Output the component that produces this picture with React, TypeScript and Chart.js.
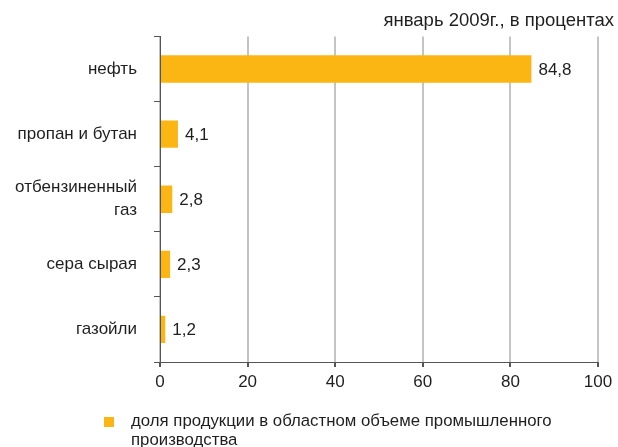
import React, { useEffect, useRef } from "react";
import { Chart, registerables } from "chart.js";

Chart.register(...registerables);

const categories: (string | string[])[] = [
  "нефть",
  "пропан и бутан",
  ["отбензиненный", "газ"],
  "сера сырая",
  "газойли",
];
const values: number[] = [84.8, 4.1, 2.8, 2.3, 1.2];
const seriesName = "доля продукции в областном объеме промышленного производства";
const legendLines: string[] = ["доля продукции в областном объеме промышленного", "производства"];
const titleText = "январь 2009г., в процентах";
const xMin = 0;
const xMax = 100;
const xStep = 20;

const BAR_COLOR = "#FCB614";
const TEXT_COLOR = "#1f1f1f";
const FONT = "'Liberation Sans', Arial, sans-serif";
const W = 610;
const H = 439;

const fmt = (v: number) => v.toFixed(1).replace(".", ",");

const valueLabels = {
  id: "valueLabels",
  afterDatasetsDraw(chart: any) {
    const ctx = chart.ctx;
    const meta = chart.getDatasetMeta(0);
    ctx.save();
    ctx.font = `17px ${FONT}`;
    ctx.fillStyle = TEXT_COLOR;
    ctx.textAlign = "left";
    ctx.textBaseline = "middle";
    meta.data.forEach((bar: any, i: number) => {
      ctx.fillText(fmt(values[i]), bar.x + 7, bar.y + 1);
    });
    ctx.restore();
  },
};

const customLegend = {
  id: "customLegend",
  afterDraw(chart: any) {
    const ctx = chart.ctx;
    ctx.save();
    ctx.fillStyle = BAR_COLOR;
    ctx.fillRect(96, 409, 10, 10);
    ctx.font = `16.8px ${FONT}`;
    ctx.fillStyle = TEXT_COLOR;
    ctx.textAlign = "left";
    ctx.textBaseline = "middle";
    legendLines.forEach((line, i) => {
      ctx.fillText(line, 123, 413 + i * 19);
    });
    ctx.restore();
  },
};

export default function App() {
  const ref = useRef<HTMLCanvasElement>(null);
  useEffect(() => {
    if (!ref.current) return;
    const chart = new Chart(ref.current, {
      type: "bar",
      data: {
        labels: categories,
        datasets: [
          {
            label: seriesName,
            data: values,
            backgroundColor: BAR_COLOR,
            borderWidth: 0,
            barPercentage: 0.42,
            categoryPercentage: 1,
          },
        ],
      },
      options: {
        indexAxis: "y",
        responsive: false,
        animation: false,
        layout: { padding: { left: 0, right: 4, top: 0, bottom: 55 } },
        plugins: {
          legend: { display: false },
          tooltip: { enabled: false },
          title: {
            display: true,
            text: titleText,
            align: "end",
            color: TEXT_COLOR,
            font: { family: FONT, size: 18.5, weight: "normal" },
            padding: { top: 1, bottom: 4.6 },
          },
        },
        scales: {
          x: {
            min: xMin,
            max: xMax,
            ticks: {
              stepSize: xStep,
              color: TEXT_COLOR,
              font: { family: FONT, size: 17 },
              padding: 5,
              maxRotation: 0,
            },
            grid: {
              color: "#C4C4C6",
              lineWidth: 2,
              tickColor: "#555555",
              tickLength: 5,
            },
            border: { display: true, color: "#555555", width: 1 },
            afterFit: (s: any) => {
              s.height = 30;
              s.paddingRight = 20;
              s.paddingLeft = 0;
            },
          },
          y: {
            ticks: {
              color: TEXT_COLOR,
              font: { family: FONT, size: 17, lineHeight: 1.35 },
              padding: 17,
            },
            grid: {
              offset: true,
              drawOnChartArea: false,
              drawTicks: true,
              tickLength: 6,
              tickColor: "#555555",
            },
            border: { display: true, color: "#555555", width: 1 },
            afterFit: (s: any) => {
              s.width = 152;
            },
          },
        },
      },
      plugins: [valueLabels, customLegend],
    });
    return () => chart.destroy();
  }, []);
  return (
    <div style={{ position: "absolute", left: 8, top: 8, width: W, height: H }}>
      <canvas ref={ref} width={W} height={H} style={{ display: "block" }} />
    </div>
  );
}
